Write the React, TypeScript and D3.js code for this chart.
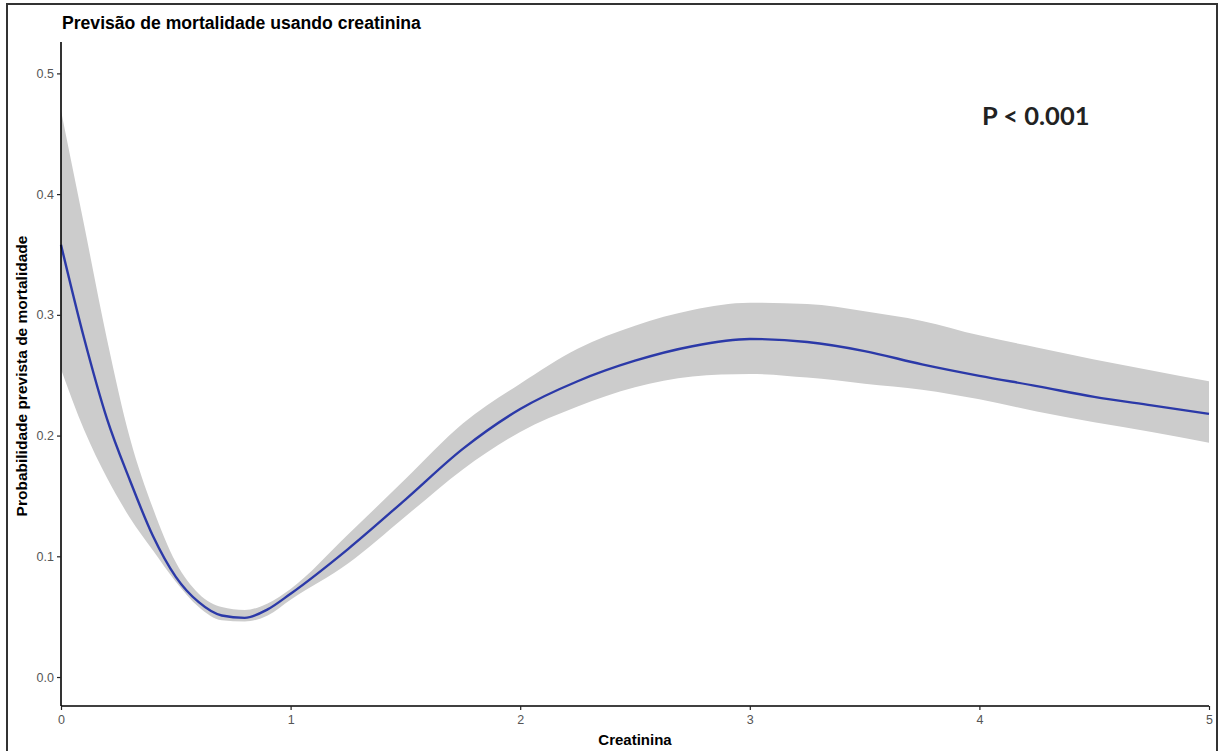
import React, { useRef, useEffect } from 'react';
import { select, axisBottom, axisLeft, scaleLinear, area, line, curveMonotoneX } from 'd3';

// creatinine values where the curve was read
const creat = [0, 0.1, 0.2, 0.3, 0.4, 0.5, 0.6, 0.7, 0.8, 0.9, 1.0, 1.25, 1.5, 1.75, 2.0, 2.25, 2.5, 2.75, 3.0, 3.25, 3.5, 3.75, 4.0, 4.25, 4.5, 4.75, 5.0];
// predicted probability + confidence band
const fit = [0.358, 0.281, 0.214, 0.163, 0.117, 0.083, 0.062, 0.051, 0.049, 0.056, 0.069, 0.106, 0.147, 0.189, 0.222, 0.245, 0.262, 0.274, 0.280, 0.2775, 0.270, 0.259, 0.2495, 0.241, 0.232, 0.225, 0.218];
const lower = [0.255, 0.205, 0.165, 0.132, 0.105, 0.079, 0.058, 0.047, 0.046, 0.051, 0.064, 0.094, 0.133, 0.172, 0.203, 0.224, 0.240, 0.249, 0.251, 0.248, 0.243, 0.238, 0.230, 0.220, 0.211, 0.203, 0.194];
const upper = [0.469, 0.375, 0.280, 0.198, 0.140, 0.095, 0.069, 0.058, 0.0555, 0.061, 0.073, 0.118, 0.164, 0.210, 0.243, 0.272, 0.291, 0.304, 0.310, 0.309, 0.303, 0.295, 0.283, 0.273, 0.263, 0.254, 0.245];

const xTicks = [0, 1, 2, 3, 4, 5];
const yTicks = [0, 0.1, 0.2, 0.3, 0.4, 0.5];

const title = 'Previsão de mortalidade usando creatinina';
const xTitle = 'Creatinina';
const yTitle = 'Probabilidade prevista de mortalidade';
const pLabel = 'P < 0.001';

const W = 1219, H = 751;
const left = 61, right = 1209, top = 42, bottom = 706;
const font = 'Liberation Sans, Arial, sans-serif';

function App() {
    const xRef = useRef(null);
    const yRef = useRef(null);

    const x = scaleLinear().domain([0, 5]).range([left, right]);
    const y = scaleLinear().domain([-0.024, 0.526]).range([bottom, top]);

    const rows = creat.map((c, i) => ({ c, fit: fit[i], lo: lower[i], hi: upper[i] }));

    const band = area<any>()
        .x(d => x(d.c))
        .y0(d => y(d.lo))
        .y1(d => y(d.hi))
        .curve(curveMonotoneX);
    const fitLine = line<any>()
        .x(d => x(d.c))
        .y(d => y(d.fit))
        .curve(curveMonotoneX);

    useEffect(() => {
        const xa = axisBottom(x).tickValues(xTicks).tickFormat(d => String(d)).tickSizeOuter(0).tickSize(4).tickPadding(5);
        const ya = axisLeft(y).tickValues(yTicks).tickFormat(d => (+d).toFixed(1)).tickSizeOuter(0).tickSize(4).tickPadding(3);

        const gx = select(xRef.current).call(xa as any);
        const gy = select(yRef.current).call(ya as any);

        [gx, gy].forEach(g => {
            g.select('.domain').attr('stroke', '#000').attr('stroke-width', 1.6);
            g.selectAll('.tick line').attr('stroke', '#222').attr('stroke-width', 1.2);
            g.selectAll('.tick text')
                .attr('fill', '#555')
                .style('font-family', font)
                .style('font-size', '12.5px');
        });
        // axis lines span the whole panel
        gy.select('.domain').attr('d', `M0,${bottom}V${top}`);
        gx.select('.domain').attr('d', `M${left},0H${right}`);
    }, []);

    return (
        <svg width={W} height={H} style={{ position: 'absolute', left: 0, top: 0, background: '#fff' }}>
            <rect x={7} y={4} width={1210} height={760} fill="#fff" stroke="#333" strokeWidth={2} />
            <path d={band(rows) || ''} fill="#cccccc" />
            <path d={fitLine(rows) || ''} fill="none" stroke="#2b39a8" strokeWidth={2.4} />
            <g ref={xRef} transform={`translate(0,${bottom})`} />
            <g ref={yRef} transform={`translate(${left},0)`} />
            <text x={62} y={29} fontFamily={font} fontWeight="bold" fontSize={17.6} fill="#000">{title}</text>
            <text x={(left + right) / 2} y={745} textAnchor="middle" fontFamily={font} fontWeight="bold" fontSize={15} fill="#000">{xTitle}</text>
            <text transform={`translate(27,${(top + bottom) / 2 + 2}) rotate(-90)`} textAnchor="middle" fontFamily={font} fontWeight="bold" fontSize={15.5} fill="#000">{yTitle}</text>
            <text x={982} y={125} fontFamily="Lato, 'Open Sans', sans-serif" fontWeight="bold" fontSize={25.5} fill="#222">{pLabel}</text>
        </svg>
    );
}

export default App;
